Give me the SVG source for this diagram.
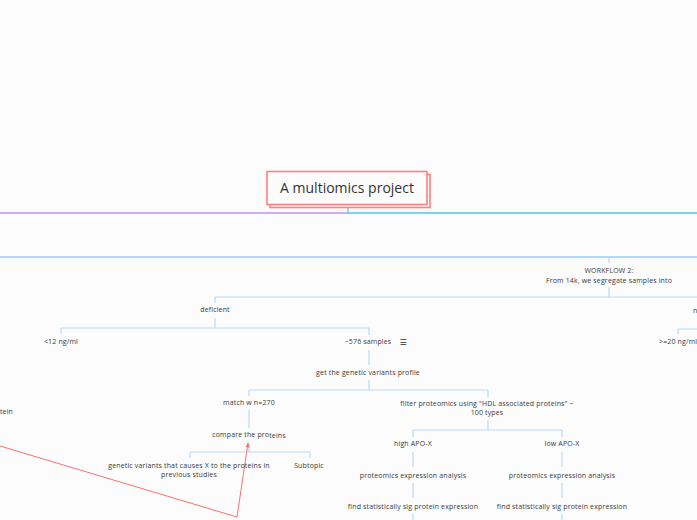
<svg xmlns="http://www.w3.org/2000/svg" width="697" height="520" viewBox="0 0 697 520">
<defs>
<style>
.t{font-family:"Open Sans","Lato","Liberation Sans",sans-serif;font-size:7px;letter-spacing:0.15px;fill:#3a3a3a;text-anchor:middle}
.c{fill:none;stroke:#b8daf8;stroke-width:1.2}
.m{fill:none;stroke:#9ccdf6;stroke-width:1.6}
</style>
<marker id="ah" viewBox="0 0 10 10" refX="9" refY="5" markerWidth="5" markerHeight="5" orient="auto"><path d="M0,1 L10,5 L0,9 z" fill="#f87171"/></marker>
</defs>
<rect width="697" height="520" fill="#fcfcfc"/>
<g id="connectors">
<line x1="0" y1="213" x2="348" y2="213" stroke="#bf96e8" stroke-width="1.6"/>
<line x1="348" y1="213" x2="697" y2="213" stroke="#4fc9e0" stroke-width="1.6"/>
<line x1="348" y1="207" x2="348" y2="213" stroke="#4fc9e0" stroke-width="1.2"/>
<line x1="0" y1="257" x2="697" y2="257" class="m"/>
<path class="c" d="M609,257 V263 M609,287 V297 M215,297 H697 M215,297 V303 M215,318 V328 M61,328 H369 M61,328 V334 M369,328 V335 M369,350 V365 M369,380 V390 M249,390 H488 M249,390 V396 M488,390 V397 M249,410 V428 M249,443 V452 M190,452 H310 M190,452 V458 M310,452 V458 M488,420 V430 M413,430 H562 M413,430 V437 M562,430 V437 M413,452 V467 M562,452 V467 M413,483 V498 M562,483 V498 M413,514 V520 M562,514 V520 M678,329 H697 M678,329 V334"/>
<polyline points="0,446 237,517 248,443" fill="none" stroke="#f87171" stroke-width="1" marker-end="url(#ah)"/>
</g>
<g id="root">
<rect x="270" y="174.5" width="160" height="33" fill="#fcfcfc" stroke="#ff8080" stroke-width="1.6"/>
<rect x="267" y="171.5" width="160" height="33" fill="#fcfcfc" stroke="#ff8080" stroke-width="1.6"/>
<text x="347" y="193" style="font-family:'Open Sans','Lato','Liberation Sans',sans-serif;font-size:14px;fill:#333;text-anchor:middle">A multiomics project</text>
</g>
<g id="workflow2"><text class="t" x="609" y="273">WORKFLOW 2:</text><text class="t" x="609" y="283">From 14k, we segregate samples into</text></g>
<g id="deficient"><text class="t" x="215" y="312">deficient</text></g>
<g id="n-node"><text class="t" x="693" y="313" style="text-anchor:start">n</text></g>
<g id="lt12"><text class="t" x="61" y="344">&lt;12 ng/ml</text></g>
<g id="ge20"><text class="t" x="659" y="344" style="text-anchor:start">&gt;=20 ng/ml</text></g>
<g id="samples"><text class="t" x="368" y="344">~576 samples</text><text x="403" y="344.5" style="font-family:'DejaVu Sans',sans-serif;font-size:8px;fill:#333;text-anchor:middle">☰</text></g>
<g id="genetic"><text class="t" x="368" y="375">get the genetic variants profile</text></g>
<g id="tein"><text class="t" x="13" y="414" style="text-anchor:end">tein</text></g>
<g id="match"><text class="t" x="249" y="405">match w n=270</text></g>
<g id="filter"><text class="t" x="487" y="406">filter proteomics using "HDL associated proteins" ~</text><text class="t" x="487" y="415">100 types</text></g>
<g id="compare"><text class="t" x="249" y="437">compare the pro<tspan dy="1.2">teins</tspan></text></g>
<g id="variants"><text class="t" x="189" y="468">genetic variants that causes X to the proteins in</text><text class="t" x="189" y="477">previous studies</text></g>
<g id="subtopic"><text class="t" x="309" y="468">Subtopic</text></g>
<g id="high"><text class="t" x="413" y="446">high APO-X</text></g>
<g id="low"><text class="t" x="562" y="446">low APO-X</text></g>
<g id="pea1"><text class="t" x="413" y="478">proteomics expression analysis</text></g>
<g id="pea2"><text class="t" x="562" y="478">proteomics expression analysis</text></g>
<g id="sig1"><text class="t" x="413" y="509">find statistically sig protein expression</text></g>
<g id="sig2"><text class="t" x="562" y="509">find statistically sig protein expression</text></g>
</svg>
